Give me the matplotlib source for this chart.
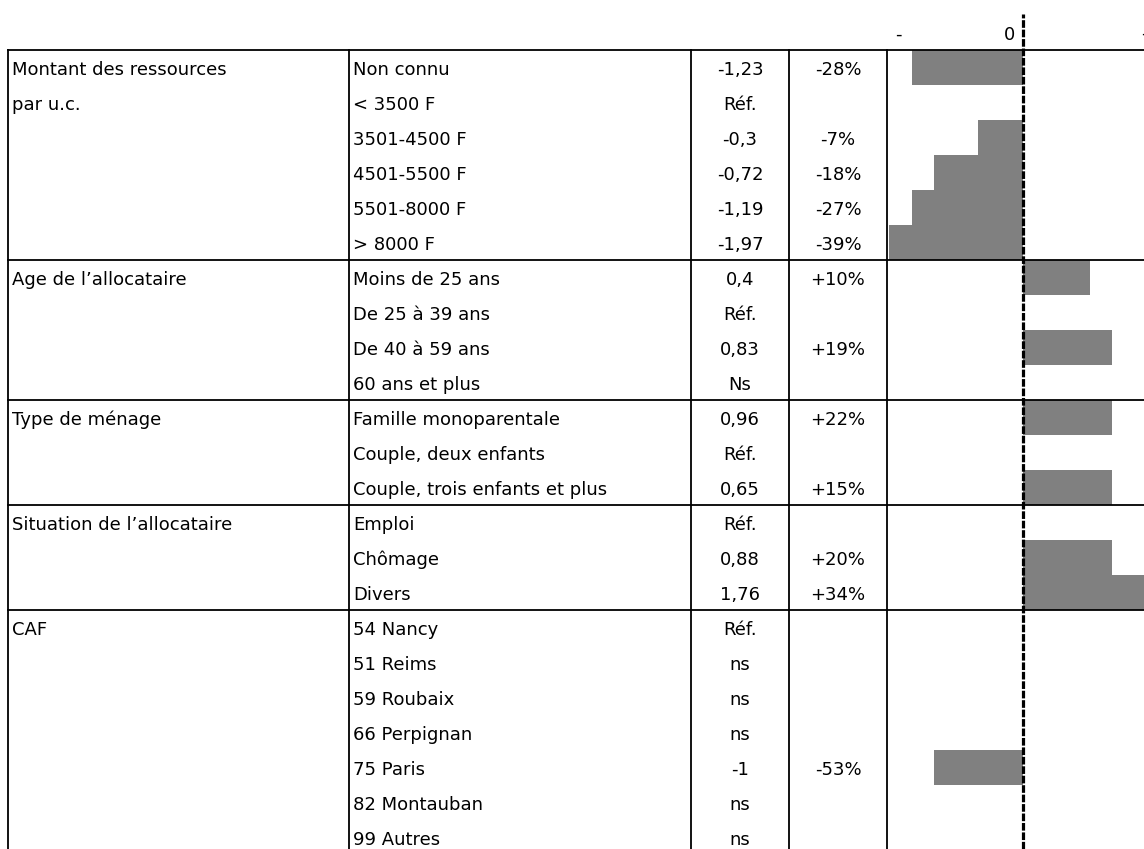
import numpy as np
import matplotlib
matplotlib.use("Agg")
import matplotlib.pyplot as plt

plt.rcParams['font.family'] = ['DejaVu Sans']
plt.rcParams['lines.scale_dashes'] = False

# table content
groups = ["Montant des ressources\npar u.c.", "Age de l\u2019allocataire",
          "Type de m\u00e9nage", "Situation de l\u2019allocataire", "CAF"]
group_sizes = [6, 4, 3, 3, 7]
modalites = ["Non connu", "< 3500 F", "3501-4500 F", "4501-5500 F", "5501-8000 F", "> 8000 F",
             "Moins de 25 ans", "De 25 \u00e0 39 ans", "De 40 \u00e0 59 ans", "60 ans et plus",
             "Famille monoparentale", "Couple, deux enfants", "Couple, trois enfants et plus",
             "Emploi", "Ch\u00f4mage", "Divers",
             "54 Nancy", "51 Reims", "59 Roubaix", "66 Perpignan", "75 Paris", "82 Montauban", "99 Autres"]
coefs = ["-1,23", "R\u00e9f.", "-0,3", "-0,72", "-1,19", "-1,97",
         "0,4", "R\u00e9f.", "0,83", "Ns",
         "0,96", "R\u00e9f.", "0,65",
         "R\u00e9f.", "0,88", "1,76",
         "R\u00e9f.", "ns", "ns", "ns", "-1", "ns", "ns"]
pcts = ["-28%", "", "-7%", "-18%", "-27%", "-39%",
        "+10%", "", "+19%", "",
        "+22%", "", "+15%",
        "", "+20%", "+34%",
        "", "", "", "", "-53%", "", ""]
# bar lengths (grid cells)
bars = [-5, 0, -2, -4, -5, -6,
        3, 0, 4, 0,
        4, 0, 4,
        0, 4, 6,
        0, 0, 0, 0, -4, 0, 0]
axis_labels = ["-", "0", "+"]

W, H = 1144, 849
top, row_h = 50, 35.0
cell = 22.3
zero_px = 1023
col_x = [8, 349, 691, 789, 887]

fig = plt.figure(figsize=(W / 100, H / 100), dpi=100)

y_lim = ((H - top) / row_h, -top / row_h)

# bar area
bx = fig.add_axes([0, 0, 1, 1])
bx.set_xlim(-zero_px / cell, (W - zero_px) / cell)
bx.set_ylim(*y_lim)
bx.axis('off')
rows = np.arange(len(bars)) + 0.5
bx.barh(rows, bars, height=1.0, left=0, color='#808080', zorder=1)
bx.plot([0, 0], [y_lim[0], (14 - top) / row_h], color='black', lw=2.3,
        linestyle=(0, (5.5, 1.3)), zorder=3, clip_on=False)
for lab, xv in zip(axis_labels, [-5.6, -0.6, 5.6]):
    bx.text(xv, (40 - top) / row_h, lab, ha='center', va='baseline', fontsize=13)

# table
ax = fig.add_axes([0, 0, 1, 1])
ax.set_xlim(0, W)
ax.set_ylim(*y_lim)
ax.axis('off')
ax.patch.set_alpha(0)

for xc in col_x:
    ax.plot([xc, xc], [0, y_lim[0]], color='black', lw=1.3)

start = 0
ax.plot([col_x[0], W], [0, 0], color='black', lw=1.3)
for g, n in zip(groups, group_sizes):
    for i, line in enumerate(g.split("\n")):
        ax.text(12, start + i + 0.71, line, ha='left', va='baseline', fontsize=13)
    start += n
    ax.plot([col_x[0], W], [start, start], color='black', lw=1.3)

for i in range(len(modalites)):
    yb = i + 0.71
    ax.text(353, yb, modalites[i], ha='left', va='baseline', fontsize=13)
    ax.text(740, yb, coefs[i], ha='center', va='baseline', fontsize=13)
    ax.text(838, yb, pcts[i], ha='center', va='baseline', fontsize=13)

fig.savefig("out.png", dpi=100)
